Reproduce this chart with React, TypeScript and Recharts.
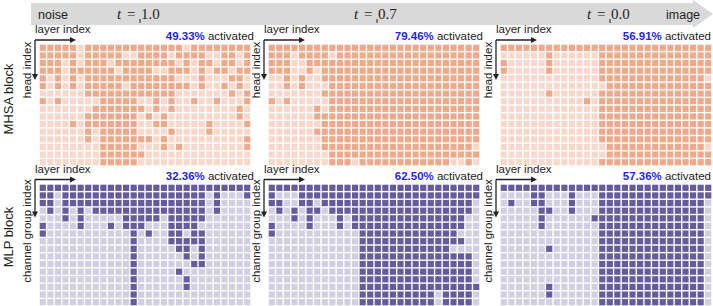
import { Scatter, ScatterChart, XAxis, YAxis } from "recharts";

// one row per head / channel group, one character per layer ("1" = activated)
const timesteps = ["1.0", "0.7", "0.0"];
const mhsaActivated = ["49.33%", "79.46%", "56.91%"];
const mlpActivated = ["32.36%", "62.50%", "57.36%"];

const mhsaT10 = [
  "1111101111111111111011111111",
  "1111101111100111101111001101",
  "1110101110111111110101101101",
  "1110111111011110011101011011",
  "1010101111111111110001000110",
  "1010101111101111111101001010",
  "0000001111111111110000000101",
  "1010000011111001010010010001",
  "0000000111111101010000000010",
  "0000001111111010100000000010",
  "0000101111111001100000100001",
  "0000001011111000010000100000",
  "0000001011111110100000000001",
  "0000000011111000101000000001",
  "0000000011111100000000000000",
  "0000000011111000000000000000",
];

const mhsaT07 = [
  "1111111111111111111111111111",
  "1110111101111111111111111111",
  "1110011111111111111111111111",
  "1110010111111111111111111111",
  "0010100111111111111111111111",
  "0010100011111111111111111111",
  "0000000111111111111111111111",
  "1010000011111111111111111111",
  "0000001011111111111111111111",
  "0000001111111111111111111111",
  "0000000111111111111111111111",
  "0000001111111111111111111111",
  "0000000111111111111111111111",
  "0000000111111111111111111110",
  "0000000011111111111111111111",
  "0000000011101111111111110010",
];

const mhsaT00 = [
  "1111111111111111111111111111",
  "0000001000000111111111111111",
  "1000001000000111111111111111",
  "1000001000000111111111111111",
  "0000000000000111111111111110",
  "0000000000000011111111111111",
  "0000001000000111111111111111",
  "0000000000010111111111111111",
  "0000000000000111111111111111",
  "0000000000000111111111111111",
  "0000000000000111111111111111",
  "0000000000000111111111111111",
  "0000000000000111111111111111",
  "0000000000000011111111111110",
  "0000000000000011111111111111",
  "0000000000000111111111111111",
];

const mlpT10 = [
  "1111111111111111111111111111",
  "1101111111111111111111010001",
  "1101111111111111111111010000",
  "0101010111111111111111010000",
  "0001010000011111011111000000",
  "1000010001011100011110000000",
  "1000000000001010011011000000",
  "0000000000001000011111000000",
  "0000000000001000001101000000",
  "0000000000001000000101000000",
  "0000000000001000000011000000",
  "0000000000001000001000000000",
  "0000000000001000000100000000",
  "0000000000001000000100000000",
  "0000000000001000000000000000",
  "0000000000001000000000000000",
];

const mlpT07 = [
  "1111111111111111111111111111",
  "1000111111111111111111111111",
  "1100110111111111111111111110",
  "0101011011111111111111111110",
  "0001010001011111111111111100",
  "1000010001011111111111111100",
  "1000000000001111111111111000",
  "0000000000001111111111111100",
  "0000000000001111111111110000",
  "0000000000001111111111111110",
  "0000000000001111111111111110",
  "0000000000001111111111111110",
  "0000000000001111111111111110",
  "0000000000001111111111111111",
  "0000000000001111111111011110",
  "0000000000001111111111011110",
];

const mlpT00 = [
  "1111111111111111111111111111",
  "0000110001000111111111111111",
  "0100110001000111111111111110",
  "0000011001000111111111111110",
  "0000010000001111111111111110",
  "0000010000000111111111111110",
  "0000000000000111111111111110",
  "0000000000000111111111111110",
  "0000001000000111111111111110",
  "0000000000000111111111111110",
  "0000000000000111111111111110",
  "0000000000000111111111111110",
  "0000000000000111111111111110",
  "0000001000000111111111111110",
  "0000001000000111111111111110",
  "0000000000000111111111111110",
];

const mhsaMaps = [mhsaT10, mhsaT07, mhsaT00];
const mlpMaps = [mlpT10, mlpT07, mlpT00];

const gridLeft = [39, 268, 500];
const gridW = 212;
const gridH = 122;
const mhsaTop = 44;
const mlpTop = 183.5;

const mhsaColors = { on: "#eea98a", off: "#f8d8ca" };
const mlpColors = { on: "#675b9d", off: "#d3cfe3" };

const sans = "'Liberation Sans', Arial, sans-serif";
const serif = "'Liberation Serif', 'Times New Roman', serif";
const ink = "#222";

type Cell = { layer: number; head: number; on: number };

const toCells = (rows: string[]) => {
  const cells: Cell[] = [];
  rows.forEach((row, r) =>
    row.split("").forEach((v, c) => cells.push({ layer: c, head: r, on: v === "1" ? 1 : 0 }))
  );
  return cells;
};

function ActivationGrid({ rows, colors }: { rows: string[]; colors: { on: string; off: string } }) {
  const nCols = rows[0].length;
  const nRows = rows.length;
  const cw = gridW / nCols;
  const ch = gridH / nRows;
  const gap = 1.4;

  const renderCell = (props: any) => {
    const { cx, cy, payload } = props;
    return (
      <rect
        x={cx - cw / 2 + gap / 2}
        y={cy - ch / 2 + gap / 2}
        width={cw - gap}
        height={ch - gap}
        fill={payload.on ? colors.on : colors.off}
      />
    );
  };

  return (
    <ScatterChart width={gridW} height={gridH} margin={{ top: 0, right: 0, bottom: 0, left: 0 }}>
      <XAxis type="number" dataKey="layer" domain={[-0.5, nCols - 0.5]} hide allowDataOverflow />
      <YAxis type="number" dataKey="head" domain={[-0.5, nRows - 0.5]} reversed hide allowDataOverflow />
      <Scatter data={toCells(rows)} shape={renderCell} isAnimationActive={false} />
    </ScatterChart>
  );
}

function Arrows({ x, y, len }: { x: number; y: number; len: number }) {
  return (
    <g stroke={ink} fill={ink} strokeWidth={1.3}>
      <line x1={x} y1={y} x2={x + 41 - 5} y2={y} />
      <polygon points={`${x + 41},${y} ${x + 35},${y - 3} ${x + 35},${y + 3}`} stroke="none" />
      <line x1={x} y1={y} x2={x} y2={y + len - 5} />
      <polygon points={`${x},${y + len} ${x - 3},${y + len - 6} ${x + 3},${y + len - 6}`} stroke="none" />
    </g>
  );
}

function PanelLabels({
  x,
  right,
  top,
  pct,
  axisLabel,
  axisMid,
  arrowLen,
}: {
  x: number;
  right: number;
  top: number;
  pct: string;
  axisLabel: string;
  axisMid: number;
  arrowLen: number;
}) {
  return (
    <g fontFamily={sans}>
      <text x={x} y={top - 7} fontSize={11.5} fill={ink}>
        layer index
      </text>
      <text x={right} y={top} fontSize={11.5} textAnchor="end" fill={ink}>
        <tspan fill="#1f1fff" fontWeight="bold">
          {pct}
        </tspan>
        <tspan> activated</tspan>
      </text>
      <Arrows x={x} y={top} len={arrowLen} />
      <text
        transform={`translate(${x - 4.5}, ${axisMid}) rotate(-90)`}
        fontSize={11.5}
        textAnchor="middle"
        fill={ink}
      >
        {axisLabel}
      </text>
    </g>
  );
}

export default function App() {
  const tX = [117, 354, 587];
  return (
    <div style={{ position: "absolute", left: 0, top: 0, width: 713, height: 306, background: "#fff" }}>
      {mhsaMaps.map((rows, i) => (
        <div key={`a${i}`} style={{ position: "absolute", left: gridLeft[i], top: mhsaTop }}>
          <ActivationGrid rows={rows} colors={mhsaColors} />
        </div>
      ))}
      {mlpMaps.map((rows, i) => (
        <div key={`m${i}`} style={{ position: "absolute", left: gridLeft[i], top: mlpTop }}>
          <ActivationGrid rows={rows} colors={mlpColors} />
        </div>
      ))}
      <svg
        width={713}
        height={306}
        style={{ position: "absolute", left: 0, top: 0, pointerEvents: "none", overflow: "visible" }}
      >
        <polygon points="31,3 693,3 693,0 713,14 693,28 693,25 31,25" fill="#d9d9d9" />
        <text x={38} y={19} fontFamily={sans} fontSize={12.5} fill={ink}>
          noise
        </text>
        <text x={666} y={19} fontFamily={sans} fontSize={12.5} fill={ink}>
          image
        </text>
        {timesteps.map((t, i) => (
          <g key={t} fontFamily={serif} fontSize={15} fill={ink}>
            <text x={tX[i]} y={19} fontStyle="italic">
              t
            </text>
            <text x={tX[i] + 10} y={19}>
              =
            </text>
            <line x1={tX[i] + 23} y1={19} x2={tX[i] + 23} y2={23} stroke={ink} strokeWidth={1} />
            <text x={tX[i] + 24} y={19}>
              {t}
            </text>
          </g>
        ))}

        <text transform="translate(13, 99) rotate(-90)" fontFamily={sans} fontSize={13} textAnchor="middle" fill={ink}>
          MHSA block
        </text>
        <text transform="translate(13, 237) rotate(-90)" fontFamily={sans} fontSize={13} textAnchor="middle" fill={ink}>
          MLP block
        </text>

        {gridLeft.map((gx, i) => (
          <g key={`l${i}`}>
            <PanelLabels
              x={gx - 4}
              right={Math.min(gx + gridW + 3, 711)}
              top={40}
              pct={mhsaActivated[i]}
              axisLabel="head index"
              axisMid={70}
              arrowLen={40}
            />
            <PanelLabels
              x={gx - 4}
              right={Math.min(gx + gridW + 3, 711)}
              top={179.5}
              pct={mlpActivated[i]}
              axisLabel="channel group index"
              axisMid={231}
              arrowLen={38}
            />
          </g>
        ))}
      </svg>
    </div>
  );
}
